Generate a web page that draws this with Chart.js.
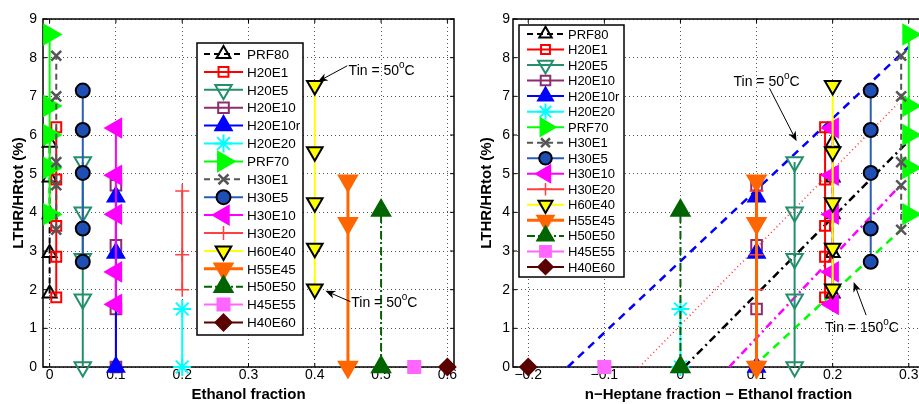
<!DOCTYPE html>
<html>
<head>
<meta charset="utf-8">
<script src="https://cdn.jsdelivr.net/npm/chart.js@4.4.0/dist/chart.umd.min.js"></script>
<style>
  html, body { margin: 0; padding: 0; background: #fff; overflow: hidden; }
  #wrap { position: relative; width: 919px; height: 404px; overflow: hidden; }
  #leftChart { position: absolute; left: 0; top: 0; }
  #rightChart { position: absolute; left: 460px; top: 0; }
</style>
</head>
<body>
<div id="wrap">
  <canvas id="leftChart" width="460" height="404"></canvas>
  <canvas id="rightChart" width="464" height="404"></canvas>
</div>
<script>
// fuels, in legend order
const fuels = ['PRF80', 'H20E1', 'H20E5', 'H20E10', 'H20E10r', 'H20E20', 'PRF70', 'H30E1',
               'H30E5', 'H30E10', 'H30E20', 'H60E40', 'H55E45', 'H50E50', 'H45E55', 'H40E60'];
const ethanolFrac = [0, 0.01, 0.05, 0.1, 0.1, 0.2, 0, 0.01, 0.05, 0.1, 0.2, 0.4, 0.45, 0.5, 0.55, 0.6];
const heptMinusEth = [0.2, 0.19, 0.15, 0.1, 0.1, 0, 0.3, 0.29, 0.25, 0.2, 0.1, 0.2, 0.1, 0, -0.1, -0.2];

// LTHR/HRtot (%) for each fuel
const lthrPRF80 = [1.9, 2.95, 3.95, 4.9, 5.8];
const lthrH20E1 = [1.8, 2.85, 3.65, 4.85, 6.2];
const lthrH20E5 = [0, 1.75, 2.8, 4.0, 5.3];
const lthrH20E10 = [0, 1.5, 3.15, 4.7];
const lthrH20E10r = [0, 2.95, 4.4];
const lthrH20E20 = [0, 1.5];
const lthrPRF70 = [3.95, 5.15, 6.0, 6.75, 8.6];
const lthrH30E1 = [3.55, 4.7, 5.3, 7.0, 8.05];
const lthrH30E5 = [2.72, 3.58, 5.02, 6.13, 7.15];
const lthrH30E10 = [1.62, 2.46, 3.95, 4.96, 6.18];
const lthrH30E20 = [2.0, 2.9, 4.55];
const lthrH60E40 = [2.02, 3.07, 4.25, 5.57, 7.28];
const lthrH55E45 = [0, 3.72, 4.82];
const lthrH50E50 = [0, 4.05];
const lthrH45E55 = [0];
const lthrH40E60 = [0];
const lthrByFuel = [lthrPRF80, lthrH20E1, lthrH20E5, lthrH20E10, lthrH20E10r, lthrH20E20, lthrPRF70, lthrH30E1,
                    lthrH30E5, lthrH30E10, lthrH30E20, lthrH60E40, lthrH55E45, lthrH50E50, lthrH45E55, lthrH40E60];

// Tin trend lines on the right panel (end points)
const tinLineX = [[-0.148, 0.3], [-0.054, 0.285], [0.005, 0.3], [0.064, 0.29], [0.095, 0.29]];
const tinLineY = [[0, 8.28], [0, 6.8], [0, 5.85], [0, 4.72], [0, 3.55]];

const yTicks = [0, 1, 2, 3, 4, 5, 6, 7, 8, 9];
const leftXTicks = [0, 0.1, 0.2, 0.3, 0.4, 0.5, 0.6];
const rightXTicks = [-0.2, -0.1, 0, 0.1, 0.2, 0.3];

const NONE = 'rgba(0,0,0,0)';
const fuelStyles = [
  { color: '#000000', dash: [6, 4], marker: 'triangle', rot: 0, r: 8, fill: NONE, edge: '#000000' },
  { color: '#ff0000', marker: 'rect', r: 7, fill: NONE, edge: '#ff0000' },
  { color: '#23906b', marker: 'triangle', rot: 180, r: 9.5, fill: NONE, edge: '#23906b' },
  { color: '#8e2c6e', marker: 'rect', r: 7.5, fill: NONE, edge: '#8e2c6e' },
  { color: '#0000ff', marker: 'triangle', rot: 0, r: 9.5, fill: '#0000ff', edge: '#0000ff' },
  { color: '#00ffff', marker: 'star', r: 9, fill: NONE, edge: '#00ffff' },
  { color: '#00ff00', marker: 'triangle', rot: 90, r: 11, fill: '#00ff00', edge: '#00ff00' },
  { color: '#555555', dash: [6, 4], marker: 'crossRot', r: 7, fill: NONE, edge: '#555555', ew: 2.5 },
  { color: '#2a5db5', marker: 'circle', r: 7, fill: '#1f4fb5', edge: '#000000' },
  { color: '#ff00ff', marker: 'triangle', rot: -90, r: 10.5, fill: '#ff00ff', edge: '#ff00ff' },
  { color: '#ff4040', marker: 'cross', r: 7, fill: NONE, edge: '#ff4040', ew: 1.5 },
  { color: '#ffff00', marker: 'triangle', rot: 180, r: 9, fill: '#ffff00', edge: '#000000' },
  { color: '#ff6600', lw: 3, marker: 'triangle', rot: 180, r: 10.5, fill: '#ff6600', edge: '#ff6600' },
  { color: '#006400', dash: [8, 3, 2, 3], marker: 'triangle', rot: 0, r: 10.5, fill: '#006400', edge: '#006400' },
  { color: '#ff66ff', marker: 'rect', r: 8.5, fill: '#ff66ff', edge: '#ff66ff' },
  { color: '#5a0000', marker: 'rectRot', r: 8, fill: '#5a0000', edge: '#5a0000' }
];
const tinStyles = [
  { color: '#0000ff', dash: [8, 6], lw: 2.5 },
  { color: '#ff3030', dash: [1, 3], lw: 1.5 },
  { color: '#000000', dash: [8, 4, 2, 4], lw: 2.5 },
  { color: '#ff00ff', dash: [8, 4, 2, 4], lw: 2.5 },
  { color: '#00ff00', dash: [8, 6], lw: 2.5 }
];

const FONT = "'Liberation Sans', Arial, Helvetica, sans-serif";

function fuelDatasets(xs) {
  return fuels.map(function (name, i) {
    const s = fuelStyles[i];
    return {
      label: name,
      data: lthrByFuel[i].map(v => ({ x: xs[i], y: v })),
      showLine: true,
      borderColor: s.color,
      borderWidth: s.lw || 2,
      borderDash: s.dash || [],
      pointStyle: s.marker,
      pointRotation: s.rot || 0,
      pointRadius: s.r,
      pointHoverRadius: s.r,
      pointBackgroundColor: s.fill,
      pointBorderColor: s.edge,
      pointBorderWidth: s.ew || 2,
      clip: false,
      order: 100 - i,
      inLegend: true
    };
  });
}

function tinDatasets() {
  return tinLineX.map(function (xs, i) {
    const s = tinStyles[i];
    return {
      label: 'tin' + i,
      data: xs.map((x, j) => ({ x: x, y: tinLineY[i][j] })),
      showLine: true,
      borderColor: s.color,
      borderWidth: s.lw,
      borderDash: s.dash,
      pointRadius: 0,
      clip: false,
      order: 200
    };
  });
}

// frame + inward ticks, MATLAB style
const axisBox = {
  id: 'axisBox',
  beforeDatasetsDraw(chart) {
    const { ctx, chartArea: a, scales } = chart;
    ctx.save();
    ctx.strokeStyle = '#000';
    ctx.lineWidth = 1;
    ctx.beginPath();
    scales.x.ticks.forEach(t => {
      const px = scales.x.getPixelForValue(t.value);
      ctx.moveTo(px, a.bottom); ctx.lineTo(px, a.bottom - 4);
      ctx.moveTo(px, a.top); ctx.lineTo(px, a.top + 4);
    });
    scales.y.ticks.forEach(t => {
      const py = scales.y.getPixelForValue(t.value);
      ctx.moveTo(a.left, py); ctx.lineTo(a.left + 4, py);
      ctx.moveTo(a.right, py); ctx.lineTo(a.right - 4, py);
    });
    ctx.stroke();
    ctx.lineWidth = 1.5;
    ctx.strokeRect(a.left, a.top, a.right - a.left, a.bottom - a.top);
    ctx.restore();
  }
};

function makeLegend(box) {
  return {
    id: 'matlabLegend',
    afterDatasetsDraw(chart) {
      const ctx = chart.ctx;
      ctx.save();
      ctx.fillStyle = '#fff';
      ctx.fillRect(box.x, box.y, box.w, box.h);
      ctx.strokeStyle = '#000';
      ctx.lineWidth = 1.5;
      ctx.strokeRect(box.x, box.y, box.w, box.h);
      let row = 0;
      chart.data.datasets.forEach(ds => {
        if (!ds.inLegend) return;
        const cy = box.y + box.first + row * box.rowH;
        row++;
        ctx.setLineDash(ds.borderDash);
        ctx.strokeStyle = ds.borderColor;
        ctx.lineWidth = ds.borderWidth;
        ctx.beginPath();
        ctx.moveTo(box.x + box.l0, cy);
        ctx.lineTo(box.x + box.l1, cy);
        ctx.stroke();
        ctx.setLineDash([]);
        ctx.fillStyle = ds.pointBackgroundColor;
        ctx.strokeStyle = ds.pointBorderColor;
        ctx.lineWidth = ds.pointBorderWidth;
        Chart.helpers.drawPoint(ctx, {
          pointStyle: ds.pointStyle,
          rotation: ds.pointRotation,
          radius: ds.pointRadius * box.scale,
          borderWidth: ds.pointBorderWidth
        }, box.x + (box.l0 + box.l1) / 2, cy);
        ctx.fillStyle = '#000';
        ctx.font = box.font + 'px ' + FONT;
        ctx.textBaseline = 'middle';
        ctx.textAlign = 'left';
        ctx.fillText(ds.label, box.x + box.tx, cy + 1);
      });
      ctx.restore();
    }
  };
}

function arrow(ctx, x0, y0, x1, y1) {
  const ang = Math.atan2(y1 - y0, x1 - x0);
  const len = 10, half = 4;
  ctx.beginPath();
  ctx.moveTo(x0, y0);
  ctx.lineTo(x1 - Math.cos(ang) * 6, y1 - Math.sin(ang) * 6);
  ctx.stroke();
  const bx = x1 - Math.cos(ang) * len, by = y1 - Math.sin(ang) * len;
  const nx = -Math.sin(ang), ny = Math.cos(ang);
  ctx.beginPath();
  ctx.moveTo(x1, y1);
  ctx.lineTo(bx + nx * half, by + ny * half);
  ctx.lineTo(x1 - Math.cos(ang) * 7, y1 - Math.sin(ang) * 7);
  ctx.lineTo(bx - nx * half, by - ny * half);
  ctx.closePath();
  ctx.fill();
}

function makeNotes(notes) {
  return {
    id: 'tinNotes',
    afterDatasetsDraw(chart) {
      const { ctx, scales: { x, y } } = chart;
      ctx.save();
      ctx.fillStyle = '#000';
      ctx.strokeStyle = '#000';
      ctx.lineWidth = 1;
      notes.forEach(n => {
        arrow(ctx, x.getPixelForValue(n.tail[0]), y.getPixelForValue(n.tail[1]),
                   x.getPixelForValue(n.head[0]), y.getPixelForValue(n.head[1]));
        let px = x.getPixelForValue(n.at[0]);
        const py = y.getPixelForValue(n.at[1]);
        ctx.textBaseline = 'middle';
        ctx.textAlign = 'left';
        ctx.font = '14px ' + FONT;
        const main = 'Tin = ' + n.temp;
        ctx.fillText(main, px, py);
        px += ctx.measureText(main).width;
        ctx.font = '10px ' + FONT;
        ctx.fillText('o', px, py - 6);
        px += ctx.measureText('o').width;
        ctx.font = '14px ' + FONT;
        ctx.fillText('C', px, py);
      });
      ctx.restore();
    }
  };
}

function fmtTick(v) {
  if (Math.abs(v) < 1e-9) return '0';
  return (v < 0 ? '\u2212' : '') + String(Math.abs(v));
}

function buildOptions(cfg) {
  return {
    responsive: false,
    animation: false,
    events: [],
    layout: { autoPadding: false, padding: { left: 0, top: 19, right: cfg.padRight, bottom: 0 } },
    plugins: { legend: { display: false }, tooltip: { enabled: false } },
    scales: {
      x: {
        type: 'linear',
        min: cfg.xMin,
        max: cfg.xMax,
        afterBuildTicks: s => { s.ticks = cfg.xTicks.map(v => ({ value: v })); },
        afterFit: s => { s.height = 37; s.paddingLeft = 0; s.paddingRight = 0; },
        grid: { color: '#555', lineWidth: 1, drawTicks: false },
        border: { display: false, dash: [1, 3] },
        ticks: {
          color: '#000', autoSkip: false, maxRotation: 0, padding: 0,
          font: { family: FONT, size: 14 },
          callback: v => fmtTick(v)
        },
        title: {
          display: true, text: cfg.xTitle, color: '#000',
          font: { family: FONT, size: 15, weight: 'bold' },
          padding: { top: 0, bottom: 0 }
        }
      },
      y: {
        type: 'linear',
        min: 0,
        max: 9,
        afterBuildTicks: s => { s.ticks = yTicks.map(v => ({ value: v })); },
        afterFit: s => { s.width = cfg.yWidth; s.paddingTop = 0; s.paddingBottom = 0; },
        grid: { color: '#555', lineWidth: 1, drawTicks: false },
        border: { display: false, dash: [1, 3] },
        ticks: {
          color: '#000', padding: cfg.yPad,
          font: { family: FONT, size: 14 },
          callback: v => fmtTick(v)
        },
        title: {
          display: true, text: 'LTHR/HRtot (%)', color: '#000',
          font: { family: FONT, size: 15, weight: 'bold' },
          padding: { top: cfg.yTitlePad, bottom: 0 }
        }
      }
    }
  };
}

new Chart(document.getElementById('leftChart'), {
  type: 'scatter',
  data: { datasets: fuelDatasets(ethanolFrac) },
  options: buildOptions({
    xMin: -0.01, xMax: 0.61, xTicks: leftXTicks, padRight: 6,
    xTitle: 'Ethanol fraction', yWidth: 43, yPad: 6, yTitlePad: 10
  }),
  plugins: [
    axisBox,
    makeLegend({ x: 197, y: 43, w: 106, h: 292, first: 11, rowH: 17.9, l0: 7, l1: 46, tx: 50, font: 13.5, scale: 1 }),
    makeNotes([
      { temp: '50', at: [0.451, 7.65], tail: [0.449, 7.79], head: [0.4045, 7.38] },
      { temp: '50', at: [0.455, 1.64], tail: [0.4538, 1.69], head: [0.416, 1.97] }
    ])
  ]
});

new Chart(document.getElementById('rightChart'), {
  type: 'scatter',
  data: { datasets: tinDatasets().concat(fuelDatasets(heptMinusEth)) },
  options: buildOptions({
    xMin: -0.22, xMax: 0.32, xTicks: rightXTicks, padRight: 0,
    xTitle: 'n\u2212Heptane fraction \u2212 Ethanol fraction', yWidth: 53, yPad: 3, yTitlePad: 18
  }),
  plugins: [
    axisBox,
    makeLegend({ x: 59, y: 25, w: 105, h: 252, first: 9, rowH: 15.53, l0: 8, l1: 45, tx: 49, font: 13, scale: 0.9 }),
    makeNotes([
      { temp: '50', at: [0.0697, 7.37], tail: [0.117, 7.21], head: [0.1526, 5.84] },
      { temp: '150', at: [0.19, 1.0], tail: [0.244, 1.34], head: [0.2276, 2.2] }
    ])
  ]
});
</script>
</body>
</html>
